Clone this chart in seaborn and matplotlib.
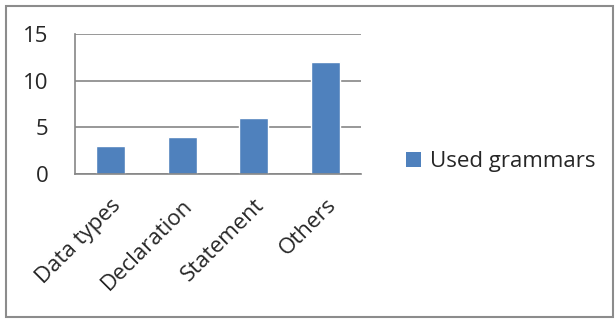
import matplotlib
matplotlib.use("Agg")
import matplotlib.pyplot as plt
import seaborn as sns
import numpy as np
from matplotlib.patches import Rectangle, Patch

categories = ["Data types", "Declaration", "Statement", "Others"]
values = [3, 4, 6, 12]
series_name = "Used grammars"
yticks = [0, 5, 10, 15]

sns.set_style("white")
plt.rcParams['font.family'] = ['Open Sans', 'DejaVu Sans']

W, H = 616, 320
FS = 16
fig = plt.figure(figsize=(W/100, H/100), dpi=100)
ax = fig.add_axes([75/W, 1-174/H, (361-75)/W, (174-34)/H])

bar_color = "#4F81BD"
grid_color = "#868686"
sns.barplot(x=categories, y=values, color=bar_color, width=0.4, ax=ax, saturation=1)

ax.set_xlim(-0.5, 3.5)
ax.set_ylim(0, 15)
ax.set_yticks(yticks)
ax.set_yticklabels([str(t) for t in yticks], fontsize=FS)
ax.yaxis.grid(True, color=grid_color, linewidth=1.2)
ax.set_axisbelow(True)
for s in ["top", "right"]:
    ax.spines[s].set_visible(False)
for s in ["left", "bottom"]:
    ax.spines[s].set_color(grid_color)
    ax.spines[s].set_linewidth(1.2)

ax.set_xticks(range(len(categories)))
ax.set_xticklabels(categories, rotation=45, ha="right", rotation_mode="anchor", fontsize=FS)
ax.tick_params(axis="x", which="major", length=0, pad=15)
ax.set_xticks(np.arange(-0.5, len(categories), 1.0), minor=True)
ax.tick_params(axis="x", which="minor", length=8, color=grid_color, width=1.2)
ax.tick_params(axis="y", which="major", length=8, color=grid_color, width=1.2, pad=11)
ax.set_xlabel("")
ax.set_ylabel("")

handles = [Patch(facecolor=bar_color, edgecolor="none", label=series_name)]
fig.legend(handles=handles, loc="center left", bbox_to_anchor=(386/W, 1-162/H),
           frameon=False, fontsize=FS, handlelength=0.68, handleheight=0.68,
           handletextpad=0.4)

fig.patches.append(Rectangle((6/W, 3/H), (613-6)/W, (314-3)/H, transform=fig.transFigure,
                             fill=False, edgecolor="#8c8c8c", linewidth=1.5))

fig.savefig("out.png", dpi=100)
